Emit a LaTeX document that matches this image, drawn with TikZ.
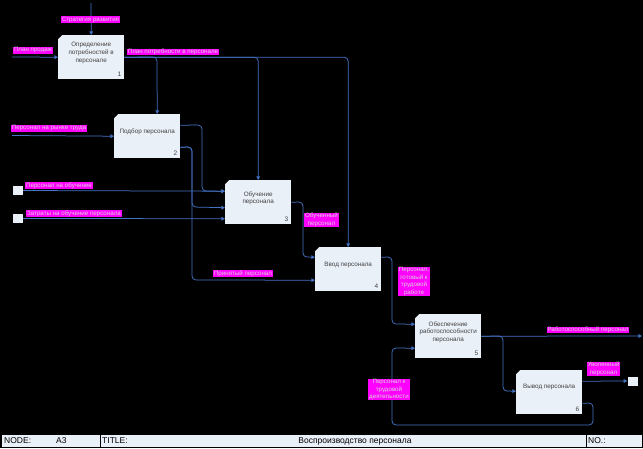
\documentclass[tikz,border=0pt]{standalone}
\usepackage{fontspec}
\setmainfont{Liberation Sans}
\usetikzlibrary{arrows.meta}
\definecolor{boxfill}{RGB}{234,240,248}
\definecolor{conncol}{RGB}{68,114,196}
\definecolor{labfill}{RGB}{255,0,255}
\definecolor{labtext}{RGB}{215,215,215}
\definecolor{boxtext}{RGB}{64,64,64}
\begin{document}
\begin{tikzpicture}[x=1pt,y=-1pt,
 conn/.style={draw=conncol,line width=0.75pt,rounded corners=4pt,-{Triangle[width=3.6pt,length=3.6pt]}},
 fbox/.style={fill=boxfill,draw=none,minimum width=66pt,minimum height=44pt,inner sep=0pt,anchor=north west},
 btxt/.style={font=\fontsize{6.3}{7.7}\selectfont,text=boxtext,align=center,inner sep=0pt},
 bnum/.style={font=\fontsize{6.5}{7}\selectfont,text=boxtext,inner sep=0pt,anchor=south east},
 lab/.style={fill=labfill,text=labtext,font=\fontsize{6.2}{7.6}\selectfont,align=center,inner xsep=1pt,inner ysep=0.4pt},
 sq/.style={fill=boxfill,draw=none,minimum width=10pt,minimum height=9pt,inner sep=0pt},
 ftxt/.style={font=\fontsize{8.5}{9}\selectfont,text=black,inner sep=0pt,anchor=base west},
 ]
\fill[black] (0,0) rectangle (643,448);
\useasboundingbox (0,0) rectangle (643,448);

% boxes
\node[fbox] (b1) at (58,35) {};
\node[fbox] (b2) at (114,114) {};
\node[fbox] (b3) at (225,180) {};
\node[fbox] (b4) at (315,247) {};
\node[fbox] (b5) at (415,314) {};
\node[fbox] (b6) at (516,370) {};
\foreach \b in {b1,b2,b3,b4,b5,b6}{
  \fill[black] (\b.north west) -- ++(4,0) -- ++(-4,4) -- cycle;
}
\node[btxt] (t1) at ([yshift=4.3pt]b1.center) {Определение\\потребностей в\\персонале};
\node[btxt] (t2) at ([yshift=4.5pt]b2.center) {Подбор персонала};
\node[btxt] (t3) at ([yshift=4pt]b3.center) {Обучение\\персонала};
\node[btxt] (t4) at ([yshift=4pt]b4.center) {Ввод персонала};
\node[btxt] (t5) at ([yshift=4pt]b5.center) {Обеспечение\\работоспособности\\персонала};
\node[btxt] (t6) at ([yshift=5pt]b6.center) {Вывод персонала};
\node[bnum] (n1) at ([xshift=-3pt,yshift=2.5pt]b1.south east) {1};
\node[bnum] (n2) at ([xshift=-3pt,yshift=2.5pt]b2.south east) {2};
\node[bnum] (n3) at ([xshift=-3pt,yshift=2.5pt]b3.south east) {3};
\node[bnum] (n4) at ([xshift=-3pt,yshift=2.5pt]b4.south east) {4};
\node[bnum] (n5) at ([xshift=-3pt,yshift=2.5pt]b5.south east) {5};
\node[bnum] (n6) at ([xshift=-3pt,yshift=2.5pt]b6.south east) {6};

% squares
\node[sq] (sq1) at (18,190.5) {};
\node[sq] (sq2) at (18,218.5) {};
\node[sq] (sq3) at (632.5,381) {};

% free ends
\coordinate (c1) at (91,3);
\coordinate (i1) at (12,57);
\coordinate (i2) at (12,135.5);
\coordinate (o5) at (642,336);

% connectors
\draw[conn] (c1) -- (b1.north);
\draw[conn] (i1) -- (b1.west);
\draw[conn] (b1.east) -- (157,57) -- ([xshift=10pt]b2.north);
\draw[conn] (b1.east) -- (b3.north |- b1.east) -- (b3.north);
\draw[conn] (b1.east) -- (b4.north |- b1.east) -- (b4.north);
\draw[conn] (i2) -- (b2.west);
\draw[conn] ([yshift=11pt]b2.east) -- (202,125) -- (202,191) -- ([yshift=11pt]b3.west);
\draw[conn] ([yshift=-11pt]b2.east) -- (192,147) -- (192,207) -- ([yshift=-5.5pt]b3.west);
\draw[conn] ([yshift=-11pt]b2.east) -- (192,147) -- (192,280) -- ([yshift=-11pt]b4.west);
\draw[conn] (sq1.east) -- ([yshift=11pt]b3.west);
\draw[conn] (sq2.east) -- ([yshift=-16.5pt]b3.west);
\draw[conn] (b3.east) -- (303,202) -- (303,257) -- ([yshift=12pt]b4.west);
\draw[conn] ([yshift=12pt]b4.east) -- (392,257) -- (392,324) -- ([yshift=12pt]b5.west);
\draw[conn] (b5.east) -- (o5);
\draw[conn] (b5.east) -- (503,336) -- (503,391) -- ([yshift=1pt]b6.west);
\draw[conn] ([yshift=11pt]b6.east) -- (sq3.west);
\draw[conn] ([yshift=-11pt]b6.east) -- (593,403) -- (593,425) -- (392,425) -- (392,348) -- ([yshift=-12pt]b5.west);

% labels
\node[lab] (l1) at (90.5,19.5) {Стратегия развития};
\node[lab] (l2) at (33,50.5) {План продаж};
\node[lab] (l3) at (173,52) {План потребности в персонале};
\node[lab] (l4) at (49,128.5) {Персонал на рынке труда};
\node[lab] (l5) at (59,185.5) {Персонал на обучение};
\node[lab] (l6) at (74,213.5) {Затраты на обучение персонала};
\node[lab] (l7) at (243,273.5) {Принятый персонал};
\node[lab] (l8) at (321.5,220) {Обученный\\персонал};
\node[lab] (l9) at (414,281.5) {Персонал,\\готовый к\\трудовой\\работе};
\node[lab] (l10) at (588,330) {Работоспособный персонал};
\node[lab] (l11) at (603.5,369) {Уволенный\\персонал};
\node[lab] (l12) at (389,389.5) {Персонал к\\трудовой\\деятельности};

% footer
\draw[fill=boxfill,draw=black,line width=0.6pt] (1,434) rectangle (642,447);
\draw[black,line width=0.6pt] (100,434) -- (100,447);
\draw[black,line width=0.6pt] (586,434) -- (586,447);
\node[ftxt] (f1) at (4,443.5) {NODE:};
\node[ftxt] (f2) at (56,443.5) {A3};
\node[ftxt] (f3) at (102,443.5) {TITLE:};
\node[ftxt,anchor=base] (f4) at (355,443.5) {Воспроизводство персонала};
\node[ftxt] (f5) at (588,443.5) {NO.:};
\end{tikzpicture}
\end{document}
